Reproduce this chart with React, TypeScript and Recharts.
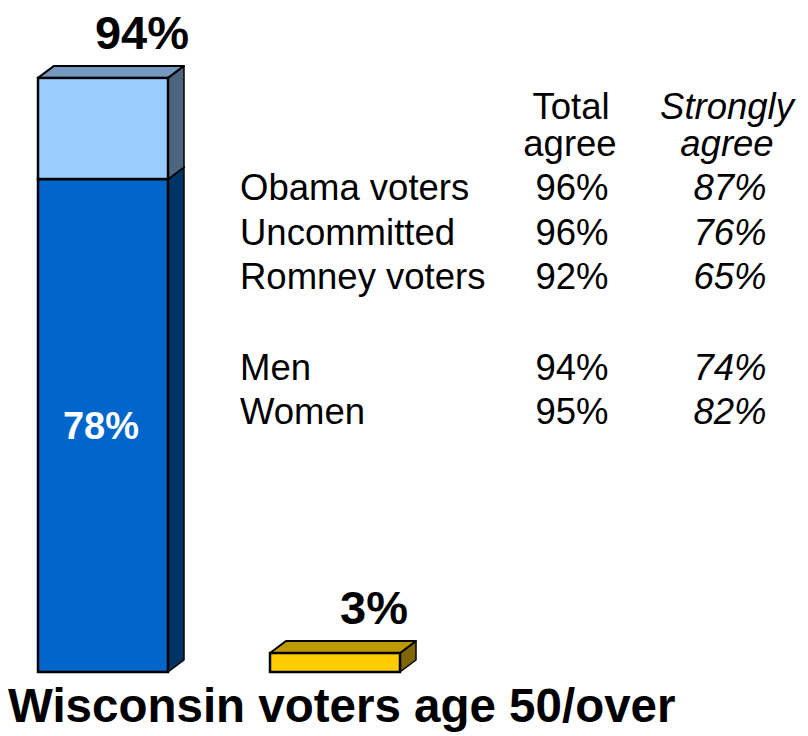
import React from "react";
import { BarChart, Bar, XAxis, YAxis, LabelList } from "recharts";

// ---- data ----
const categories = ["Wisconsin voters age 50/over"];
const stronglyAgree = [78];
const somewhatAgree = [16];
const disagree = [3];

const groupLabels = ["Obama voters", "Uncommitted", "Romney voters", "Men", "Women"];
const totalAgree = ["96%", "96%", "92%", "94%", "95%"];
const stronglyAgreeByGroup = ["87%", "76%", "65%", "74%", "82%"];

const chartData = categories.map((c, i) => ({
  group: c,
  strongly: stronglyAgree[i],
  somewhat: somewhatAgree[i],
  disagree: disagree[i],
}));

// ---- styling ----
const W = 808;
const H = 736;
const DX = 16;
const DY = 12;
const FONT = "'Liberation Sans', Arial, Helvetica, sans-serif";

const Box3D = (props: any) => {
  const { x, y, width, height, front, top, side } = props;
  if (width == null || height == null) return null;
  const w = width;
  const h = height;
  return (
    <g>
      <polygon
        points={`${x + w},${y} ${x + w + DX},${y - DY} ${x + w + DX},${y + h - DY} ${x + w},${y + h}`}
        fill={side}
        stroke="#000"
        strokeWidth={1.5}
        strokeLinejoin="round"
      />
      <polygon
        points={`${x},${y} ${x + w},${y} ${x + w + DX},${y - DY} ${x + DX},${y - DY}`}
        fill={top}
        stroke="#000"
        strokeWidth={2}
        strokeLinejoin="round"
      />
      <rect x={x} y={y} width={w} height={h} fill={front} stroke="#000" strokeWidth={2.5} />
    </g>
  );
};

const TopLabel = (props: any) => {
  const { x, y, width, value } = props;
  return (
    <text
      x={x + width / 2 + 39}
      y={y - 29}
      textAnchor="middle"
      fontFamily={FONT}
      fontWeight="bold"
      fontSize={47}
      fill="#000"
    >
      {value}
    </text>
  );
};

const InnerLabel = (props: any) => {
  const { x, y, width, height, value } = props;
  return (
    <text
      x={x + width / 2 - 2}
      y={y + height / 2 + 13}
      textAnchor="middle"
      fontFamily={FONT}
      fontWeight="bold"
      fontSize={38}
      fill="#fff"
    >
      {value}%
    </text>
  );
};

const rowY = [200, 245, 289, 380, 424];

export default function App() {
  return (
    <div style={{ position: "relative", width: W, height: H, overflow: "hidden", background: "#fff" }}>
      <style>{`html,body{margin:0;padding:0;overflow:hidden;background:#fff}`}</style>
      <BarChart
        width={W}
        height={H}
        data={chartData}
        margin={{ top: 40, right: 370, bottom: 64, left: 0 }}
        barSize={130}
        barGap={102}
      >
        <XAxis dataKey="group" hide />
        <YAxis hide domain={[0, 100]} type="number" />
        <Bar
          dataKey="strongly"
          stackId="agree"
          isAnimationActive={false}
          shape={(p: any) => <Box3D {...p} front="#0066CC" top="#1A4D99" side="#003366" />}
        >
          <LabelList dataKey="strongly" content={<InnerLabel />} />
        </Bar>
        <Bar
          dataKey="somewhat"
          stackId="agree"
          isAnimationActive={false}
          shape={(p: any) => <Box3D {...p} front="#99CCFF" top="#7399BF" side="#4D6680" />}
        >
          <LabelList
            content={(p: any) => {
              const i = p.index ?? 0;
              const total = stronglyAgree[i] + somewhatAgree[i];
              return <TopLabel {...p} value={`${total}%`} />;
            }}
          />
        </Bar>
        <Bar
          dataKey="disagree"
          stackId="disagree"
          isAnimationActive={false}
          shape={(p: any) => <Box3D {...p} front="#FFCC00" top="#BF9900" side="#806600" />}
        >
          <LabelList
            dataKey="disagree"
            content={(p: any) => <TopLabel {...p} value={`${p.value}%`} />}
          />
        </Bar>
      </BarChart>
      <svg
        width={W}
        height={H}
        style={{ position: "absolute", left: 0, top: 0, pointerEvents: "none" }}
      >
        <g fontFamily={FONT} fontSize={36.5} fill="#000">
          <text x={571} y={119} textAnchor="middle">Total</text>
          <text x={570} y={156} textAnchor="middle">agree</text>
          <text x={727} y={119} textAnchor="middle" fontStyle="italic">Strongly</text>
          <text x={727} y={156} textAnchor="middle" fontStyle="italic">agree</text>
          {groupLabels.map((g, i) => (
            <text key={g} x={240} y={rowY[i]}>{g}</text>
          ))}
          {totalAgree.map((v, i) => (
            <text key={"t" + i} x={572} y={rowY[i]} textAnchor="middle">{v}</text>
          ))}
          {stronglyAgreeByGroup.map((v, i) => (
            <text key={"s" + i} x={730} y={rowY[i]} textAnchor="middle" fontStyle="italic">{v}</text>
          ))}
        </g>
        <text
          x={8}
          y={722}
          fontFamily={FONT}
          fontWeight="bold"
          fontSize={47.5}
          fill="#000"
        >
          {categories[0]}
        </text>
      </svg>
    </div>
  );
}
